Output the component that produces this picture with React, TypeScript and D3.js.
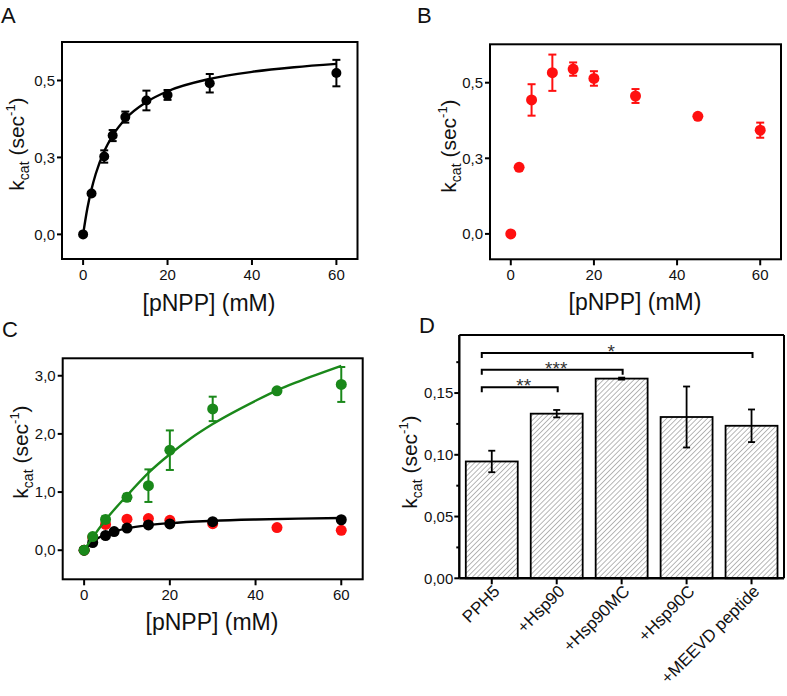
import React from 'react';
import * as d3 from 'd3';

const FONT = '"Liberation Sans", Arial, Helvetica, sans-serif';
const W = 787;
const H = 696;

// ---------- Panel A : PPH5 (black) ----------
const concA = [0, 2, 5, 7, 10, 15, 20, 30, 60];
const kcatA = [0, 0.133, 0.253, 0.321, 0.381, 0.435, 0.453, 0.491, 0.524];
const errA = [0, 0.004, 0.02, 0.018, 0.018, 0.032, 0.016, 0.03, 0.043];
const fitConcA = [0, 1, 2, 3, 5, 7, 10, 15, 20, 30, 40, 50, 60];
const fitKcatA = [0, 0.084, 0.147, 0.197, 0.27, 0.321, 0.375, 0.43, 0.465, 0.505, 0.528, 0.543, 0.554];

// ---------- Panel B : PPH5 + Hsp90 (red) ----------
const concB = [0, 2, 5, 10, 15, 20, 30, 45, 60];
const kcatB = [0, 0.22, 0.443, 0.533, 0.545, 0.514, 0.456, 0.389, 0.343];
const errB = [0, 0, 0.052, 0.06, 0.022, 0.024, 0.023, 0, 0.025];

// ---------- Panel C : PPH5 + Hsp90MC (green) ----------
const concC = [0, 2, 5, 10, 15, 20, 30, 45, 60];
const kcatC = [0, 0.235, 0.53, 0.91, 1.11, 1.72, 2.43, 2.74, 2.85];
const errC = [0, 0.03, 0.06, 0.06, 0.28, 0.34, 0.21, 0, 0.3];
const fitConcC = [0, 2, 5, 10, 15, 20, 25, 30, 40, 45, 50, 60];
const fitKcatC = [0, 0.22, 0.52, 0.94, 1.33, 1.65, 1.93, 2.17, 2.57, 2.75, 2.9, 3.17];

// ---------- Panel D : bars ----------
const categoriesD = ['PPH5', '+Hsp90', '+Hsp90MC', '+Hsp90C', '+MEEVD peptide'];
const kcatD = [0.0946, 0.1333, 0.1617, 0.1306, 0.1235];
const errD = [0.0087, 0.003, 0.0008, 0.0247, 0.0132];
const sigFrom = ['PPH5', 'PPH5', 'PPH5'];
const sigTo = ['+Hsp90', '+Hsp90MC', '+MEEVD peptide'];
const sigLevel = [0.1547, 0.1689, 0.1825];
const sigLabel = ['**', '***', '*'];

// ---------- Tick labels ----------
const xTicksABC = [0, 20, 40, 60];
const yTicksAB = [0, 0.25, 0.5];
const yTickLabelsAB = ['0,0', '0,3', '0,5'];
const yTicksC = [0, 1, 2, 3];
const yTickLabelsC = ['0,0', '1,0', '2,0', '3,0'];
const yTicksD = [0, 0.05, 0.1, 0.15];
const yTickLabelsD = ['0,00', '0,05', '0,10', '0,15'];
const yMinorTicksD = [0.025, 0.075, 0.125, 0.175];

const BLACK = '#000000';
const RED = '#ff1010';
const GREEN = '#1a881a';

type Series = { xs: number[]; ys: number[]; es?: number[]; color: string; showErr: boolean; r: number };
type Fit = { xs: number[]; ys: number[]; color: string };

function KcatTitle({ x, y }: { x: number; y: number }) {
  return (
    <text transform={`translate(${x},${y}) rotate(-90)`} textAnchor="middle" fontSize={21} fontFamily={FONT} fill="#111">
      k<tspan fontSize={14} dy={5}>cat</tspan>
      <tspan dy={-5}> (sec</tspan>
      <tspan fontSize={13} dy={-9}>-1</tspan>
      <tspan dy={9}>)</tspan>
    </text>
  );
}

function ScatterPanel(props: {
  frame: { l: number; r: number; t: number; b: number };
  xDomain: [number, number];
  yDomain: [number, number];
  yTicks: number[];
  yTickLabels: string[];
  layers: { fit?: Fit; series?: Series }[];
  yTitle: { x: number; y: number };
  xTitle: { x: number; y: number };
}) {
  const { frame, xDomain, yDomain, yTicks, yTickLabels, layers, yTitle, xTitle } = props;
  const x = d3.scaleLinear().domain(xDomain).range([frame.l, frame.r]);
  const y = d3.scaleLinear().domain(yDomain).range([frame.b, frame.t]);
  const line = d3.line<[number, number]>().x((d) => x(d[0])).y((d) => y(d[1])).curve(d3.curveMonotoneX);
  return (
    <g>
      {layers.map((layer, li) => (
        <g key={li}>
          {layer.fit && (
            <path
              d={line(layer.fit.xs.map((v, i) => [v, layer.fit!.ys[i]] as [number, number])) || ''}
              fill="none"
              stroke={layer.fit.color}
              strokeWidth={2.4}
            />
          )}
          {layer.series &&
            layer.series.xs.map((v, i) => {
              const s = layer.series!;
              const cx = x(v);
              const cy = y(s.ys[i]);
              const e = s.es ? s.es[i] : 0;
              return (
                <g key={i}>
                  {s.showErr && e > 0 && (
                    <g stroke={s.color} strokeWidth={2}>
                      <line x1={cx} x2={cx} y1={y(s.ys[i] - e)} y2={y(s.ys[i] + e)} />
                      <line x1={cx - 4} x2={cx + 4} y1={y(s.ys[i] - e)} y2={y(s.ys[i] - e)} />
                      <line x1={cx - 4} x2={cx + 4} y1={y(s.ys[i] + e)} y2={y(s.ys[i] + e)} />
                    </g>
                  )}
                  <circle cx={cx} cy={cy} r={s.r} fill={s.color} />
                </g>
              );
            })}
        </g>
      ))}
      <rect x={frame.l} y={frame.t} width={frame.r - frame.l} height={frame.b - frame.t} fill="none" stroke="#000" strokeWidth={2} />
      {yTicks.map((t, i) => (
        <g key={i}>
          <line x1={frame.l - 5} x2={frame.l} y1={y(t)} y2={y(t)} stroke="#000" strokeWidth={2} />
          <text x={frame.l - 7} y={y(t)} dy="0.35em" textAnchor="end" fontSize={15} fontFamily={FONT} fill="#111">
            {yTickLabels[i]}
          </text>
        </g>
      ))}
      {xTicksABC.map((t, i) => (
        <g key={i}>
          <line x1={x(t)} x2={x(t)} y1={frame.b} y2={frame.b + 6} stroke="#000" strokeWidth={2} />
          <text x={x(t)} y={frame.b + 21} textAnchor="middle" fontSize={15} fontFamily={FONT} fill="#111">
            {t}
          </text>
        </g>
      ))}
      <KcatTitle x={yTitle.x} y={yTitle.y} />
      <text x={xTitle.x} y={xTitle.y} textAnchor="middle" fontSize={23} fontFamily={FONT} fill="#111">
        [pNPP] (mM)
      </text>
    </g>
  );
}

function BarPanel() {
  const frame = { l: 459.3, r: 784, t: 335, b: 578.3 };
  const x = d3.scaleBand<string>().domain(categoriesD).range([frame.l, frame.r]).paddingInner(0.2).paddingOuter(0.1);
  const y = d3.scaleLinear().domain([0, 0.197]).range([frame.b, frame.t]);
  const cx = (c: string) => (x(c) as number) + x.bandwidth() / 2;
  return (
    <g>
      <defs>
        <pattern id="hatch" width={3.6} height={3.6} patternUnits="userSpaceOnUse" patternTransform="rotate(45)">
          <rect width={3.6} height={3.6} fill="#fff" />
          <line x1={0} y1={0} x2={0} y2={3.6} stroke="#707070" strokeWidth={1} />
        </pattern>
      </defs>
      {categoriesD.map((c, i) => (
        <rect
          key={c}
          x={x(c)}
          y={y(kcatD[i])}
          width={x.bandwidth()}
          height={y(0) - y(kcatD[i])}
          fill="url(#hatch)"
          stroke="#000"
          strokeWidth={1.8}
        />
      ))}
      {categoriesD.map((c, i) => {
        const px = cx(c);
        const lo = y(kcatD[i] - errD[i]);
        const hi = y(kcatD[i] + errD[i]);
        return (
          <g key={c} stroke="#000" strokeWidth={1.8}>
            <line x1={px} x2={px} y1={lo} y2={hi} />
            <line x1={px - 3.5} x2={px + 3.5} y1={lo} y2={lo} />
            <line x1={px - 3.5} x2={px + 3.5} y1={hi} y2={hi} />
          </g>
        );
      })}
      {sigFrom.map((f, i) => {
        const x1 = cx(f) - 10;
        const x2 = cx(sigTo[i]) + 1;
        const yy = y(sigLevel[i]);
        return (
          <g key={i}>
            <path d={`M${x1},${yy + 5}V${yy}H${x2}V${yy + 5}`} fill="none" stroke="#000" strokeWidth={2} />
            <text x={(x1 + x2) / 2 + (i === 2 ? -6 : 4)} y={yy + 5} textAnchor="middle" fontSize={19} fontFamily={FONT} fill="#333">
              {sigLabel[i]}
            </text>
          </g>
        );
      })}
      <line x1={frame.l} x2={frame.r} y1={frame.t} y2={frame.t} stroke="#000" strokeWidth={2} />
      <line x1={frame.r} x2={frame.r} y1={frame.t} y2={frame.b} stroke="#000" strokeWidth={2} />
      <line x1={frame.l} x2={frame.l} y1={frame.t} y2={frame.b} stroke="#000" strokeWidth={2.4} />
      <line x1={frame.l} x2={frame.r} y1={frame.b} y2={frame.b} stroke="#000" strokeWidth={2.4} />
      {yTicksD.map((t, i) => (
        <g key={i}>
          <line x1={frame.l - 5} x2={frame.l} y1={y(t)} y2={y(t)} stroke="#000" strokeWidth={2} />
          <text x={frame.l - 6} y={y(t)} dy="0.35em" textAnchor="end" fontSize={15} fontFamily={FONT} fill="#111">
            {yTickLabelsD[i]}
          </text>
        </g>
      ))}
      {yMinorTicksD.map((t, i) => (
        <line key={i} x1={frame.l - 3} x2={frame.l} y1={y(t)} y2={y(t)} stroke="#000" strokeWidth={2} />
      ))}
      {categoriesD.map((c) => (
        <g key={c}>
          <line x1={cx(c)} x2={cx(c)} y1={frame.b} y2={frame.b + 6} stroke="#000" strokeWidth={2} />
          <text
            transform={`translate(${cx(c) + 9},${frame.b + 14}) rotate(-45)`}
            textAnchor="end"
            fontSize={17}
            fontFamily={FONT}
            fill="#111"
          >
            {c}
          </text>
        </g>
      ))}
      <KcatTitle x={417} y={462} />
    </g>
  );
}

function Letter({ x, y, t }: { x: number; y: number; t: string }) {
  return (
    <text x={x} y={y} fontSize={22} fontFamily={FONT} fill="#111">
      {t}
    </text>
  );
}

export default function App() {
  return (
    <svg width={W} height={H} viewBox={`0 0 ${W} ${H}`} style={{ position: 'absolute', left: 0, top: 0, background: '#fff' }}>
      <rect width={W} height={H} fill="#fff" />
      <Letter x={1} y={23} t="A" />
      <Letter x={417} y={23} t="B" />
      <Letter x={2} y={337} t="C" />
      <Letter x={419} y={333} t="D" />

      <ScatterPanel
        frame={{ l: 62, r: 357.5, t: 42, b: 259 }}
        xDomain={[-5, 65]}
        yDomain={[-0.08, 0.625]}
        yTicks={yTicksAB}
        yTickLabels={yTickLabelsAB}
        layers={[
          { fit: { xs: fitConcA, ys: fitKcatA, color: BLACK } },
          { series: { xs: concA, ys: kcatA, es: errA, color: BLACK, showErr: true, r: 5 } },
        ]}
        yTitle={{ x: 24, y: 144 }}
        xTitle={{ x: 209, y: 311 }}
      />
      <ScatterPanel
        frame={{ l: 490, r: 781, t: 44.3, b: 259.3 }}
        xDomain={[-5, 65]}
        yDomain={[-0.084, 0.627]}
        yTicks={yTicksAB}
        yTickLabels={yTickLabelsAB}
        layers={[{ series: { xs: concB, ys: kcatB, es: errB, color: RED, showErr: true, r: 5.5 } }]}
        yTitle={{ x: 456, y: 146 }}
        xTitle={{ x: 635, y: 310 }}
      />
      <ScatterPanel
        frame={{ l: 62.7, r: 362.7, t: 358.3, b: 579.3 }}
        xDomain={[-5, 65]}
        yDomain={[-0.5, 3.3]}
        yTicks={yTicksC}
        yTickLabels={yTickLabelsC}
        layers={[
          { series: { xs: concB, ys: kcatB, color: RED, showErr: false, r: 5.5 } },
          { fit: { xs: fitConcA, ys: fitKcatA, color: BLACK } },
          { series: { xs: concA, ys: kcatA, color: BLACK, showErr: false, r: 5.5 } },
          { fit: { xs: fitConcC, ys: fitKcatC, color: GREEN } },
          { series: { xs: concC, ys: kcatC, es: errC, color: GREEN, showErr: true, r: 5.5 } },
        ]}
        yTitle={{ x: 28, y: 452 }}
        xTitle={{ x: 212, y: 630 }}
      />
      <BarPanel />
    </svg>
  );
}
